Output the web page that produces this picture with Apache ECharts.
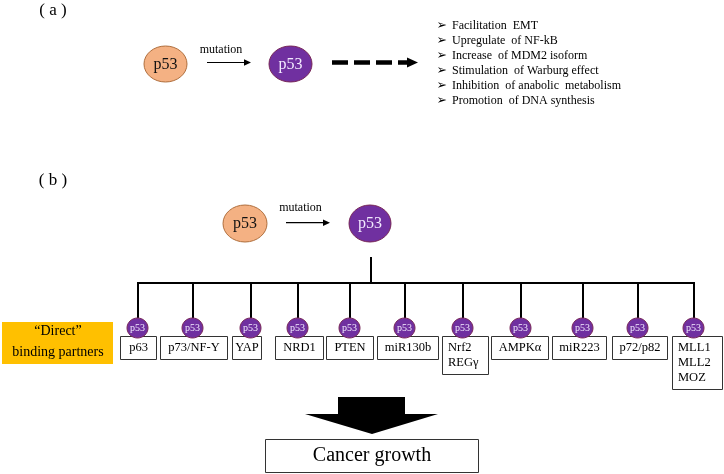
<!DOCTYPE html>
<html><head><meta charset="utf-8">
<script src="https://cdn.jsdelivr.net/npm/echarts@6/dist/echarts.min.js"></script>
<style>html,body{margin:0;padding:0;background:#fff}#c{width:724px;height:474px}</style>
</head><body><div id="c"></div>
<script>
// ---- content ----
const panelLabels = ['( a )', '( b )'];
const mutationLabel = 'mutation';
const proteinLabel = 'p53';
const effects = ['Facilitation  EMT', 'Upregulate  of NF-kB', 'Increase  of MDM2 isoform',
  'Stimulation  of Warburg effect', 'Inhibition  of anabolic  metabolism', 'Promotion  of DNA synthesis'];
const partnerTitle = ['\u201cDirect\u201d', 'binding partners'];
const partners = ['p63', 'p73/NF-Y', 'YAP', 'NRD1', 'PTEN', 'miR130b', 'Nrf2\nREG\u03b3', 'AMPK\u03b1', 'miR223', 'p72/p82', 'MLL1\nMLL2\nMOZ'];
const outcome = 'Cancer growth';

// ---- layout (diagram units = canvas pixels) ----
const partnerDropX = [138, 193, 251, 298, 350, 405, 463, 521, 583, 638, 694];
const partnerBoxL = [120, 160, 232, 275, 326, 377, 442, 491, 552, 612, 672];
const partnerBoxR = [156, 227, 261, 323, 373, 438, 488, 548, 606, 667, 722];

const serif = '"Liberation Serif","Times New Roman",serif';
const PURPLE = '#7030A0', ORANGE = '#F4B183';

function T(api, x, y, s, size, opt) {
  opt = opt || {};
  const p = api.coord([x, y]);
  return { type: 'text', style: { x: p[0], y: p[1], text: s, fill: opt.fill || '#000',
    fontSize: size, fontFamily: opt.family || serif, align: opt.align || 'center', verticalAlign: 'middle' } };
}
function L(api, pts, w, dash) {
  return { type: 'polyline', shape: { points: pts.map(q => api.coord(q)) },
    style: { stroke: '#000', lineWidth: w, fill: null, lineDash: dash || null } };
}
function P(api, pts, fill) {
  return { type: 'polygon', shape: { points: pts.map(q => api.coord(q)) }, style: { fill: fill || '#000' } };
}
function E(api, cx, cy, rx, ry, variant, size) {
  const c = api.coord([cx, cy]);
  const fill = variant === 0 ? ORANGE : PURPLE;
  const stroke = variant === 0 ? '#b0703f' : '#7a2a5a';
  return { type: 'group', children: [
    { type: 'ellipse', shape: { cx: c[0], cy: c[1], rx: rx, ry: ry }, style: { fill: fill, stroke: stroke, lineWidth: 1 } },
    T(api, cx, cy + 0.5, proteinLabel, size, { fill: variant === 0 ? '#111' : '#f3ebff' })
  ] };
}
function R(api, x1, y1, x2, y2, fill, stroke) {
  const a = api.coord([x1, y1]), b = api.coord([x2, y2]);
  return { type: 'rect', shape: { x: a[0], y: a[1], width: b[0] - a[0], height: b[1] - a[1] },
    style: { fill: fill || '#fff', stroke: stroke || null, lineWidth: 1 } };
}
function arrowLine(api, x1, x2, y, headLen, headHalf, w, dash) {
  return { type: 'group', children: [
    L(api, [[x1, y], [x2 - headLen + 1, y]], w, dash),
    P(api, [[x2 - headLen, y - headHalf], [x2, y], [x2 - headLen, y + headHalf]])
  ] };
}

// --- panel (a) ---
function renderA(params, api) {
  const ch = [];
  ch.push(T(api, 53, 11, panelLabels[0], 17));
  ch.push(E(api, 165.5, 64, 21.5, 18, 0, 16));
  ch.push(T(api, 221, 49.5, mutationLabel, 12));
  ch.push(arrowLine(api, 207, 251, 62.5, 7, 3.2, 1.2));
  ch.push(E(api, 290.5, 64, 21.5, 18, 1, 16));
  ch.push(arrowLine(api, 332, 418, 62.5, 11, 5, 4.5, [16, 6]));
  effects.forEach((e, i) => {
    const y = 25.5 + i * 15.1;
    ch.push(T(api, 436.5, y, '\u27a2', 12.5, { family: '"DejaVu Sans"', align: 'left' }));
    ch.push(T(api, 452, y, e, 12, { align: 'left' }));
  });
  return { type: 'group', children: ch };
}

// --- panel (b) ---
function renderB(params, api) {
  const ch = [];
  ch.push(T(api, 53, 181, panelLabels[1], 17));
  ch.push(E(api, 245, 223.5, 22, 18.5, 0, 16));
  ch.push(T(api, 300.5, 208, mutationLabel, 12));
  ch.push(arrowLine(api, 286, 330, 222.7, 7, 3.2, 1.2));
  ch.push(E(api, 370, 223.5, 21, 18.5, 1, 16));
  // tree
  ch.push(L(api, [[371, 257], [371, 283]], 2));
  ch.push(L(api, [[137, 283], [695, 283]], 2));
  partnerDropX.forEach(x => ch.push(L(api, [[x, 283], [x, 318]], 2)));
  // title box
  ch.push(R(api, 2, 322, 113, 364, '#FFC000'));
  ch.push(T(api, 58, 331, partnerTitle[0], 14));
  ch.push(T(api, 58, 352, partnerTitle[1], 14));
  // partner boxes
  partners.forEach((p, i) => {
    const lines = p.split('\n');
    const top = 336, bot = top + 23 + 15 * (lines.length - 1);
    ch.push(R(api, partnerBoxL[i] + 0.5, top + 0.5, partnerBoxR[i] + 0.5, bot + 0.5, '#fff', '#333'));
    lines.forEach((s, j) => {
      if (lines.length === 1) ch.push(T(api, (partnerBoxL[i] + partnerBoxR[i]) / 2 + 0.5, top + 12, s, 12.5));
      else ch.push(T(api, partnerBoxL[i] + 6, top + 12 + 15 * j, s, 12.5, { align: 'left' }));
    });
    ch.push(E(api, partnerDropX[i] - 0.5, 328, 10.5, 10, 1, 10));
  });
  // block arrow
  ch.push(P(api, [[338, 397], [405, 397], [405, 414], [438, 414], [372, 434], [305, 414], [338, 414]]));
  // outcome box
  ch.push(R(api, 265.5, 439.5, 478.5, 472.5, '#fff', '#333'));
  ch.push(T(api, 372, 455.5, outcome, 20));
  return { type: 'group', children: ch };
}

const chart = echarts.init(document.getElementById('c'), null, { renderer: 'canvas' });
chart.setOption({
  animation: false,
  backgroundColor: '#fff',
  grid: { left: 0, right: 0, top: 0, bottom: 0 },
  xAxis: { type: 'value', min: 0, max: 724, show: false },
  yAxis: { type: 'value', min: 0, max: 474, inverse: true, show: false },
  series: [
    { type: 'custom', renderItem: renderA, data: [[0, 0]], clip: false, silent: true },
    { type: 'custom', renderItem: renderB, data: [[0, 0]], clip: false, silent: true }
  ]
});
</script>
</body></html>
